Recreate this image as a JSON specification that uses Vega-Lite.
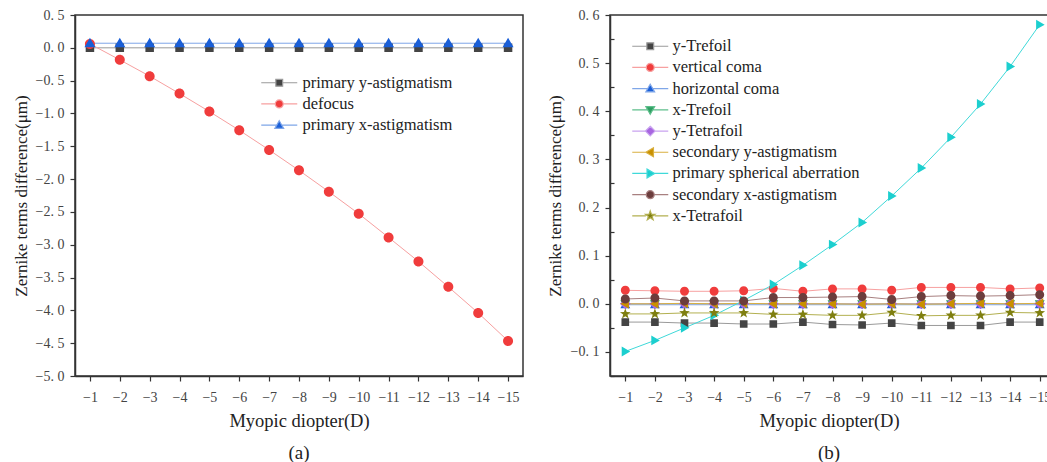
{
  "$schema": "https://vega.github.io/schema/vega-lite/v6.json",
  "padding": {"left": 11, "top": 7, "right": 0, "bottom": 0},
  "background": "white",
  "config": {
    "font": "Liberation Serif",
    "view": {"stroke": "#333333", "strokeWidth": 1.5},
    "axis": {"grid": false, "domainColor": "#333333", "domainWidth": 1.5, "tickColor": "#333333", "tickWidth": 1.2, "tickSize": 5, "labelFont": "Liberation Serif", "labelFontSize": 14, "labelColor": "#444444", "labelOverlap": false, "titleFont": "Liberation Serif", "titleFontSize": 17, "titleFontWeight": "normal", "titleColor": "#222222"},
    "legend": {"labelFont": "Liberation Serif", "labelFontSize": 16.5, "labelColor": "#222222", "labelLimit": 400, "symbolSize": 64, "symbolStrokeWidth": 1.2, "rowPadding": 4.2, "padding": 0}
  },
  "datasets": {
    "a": [
      {"D": -1, "series": "primary y-astigmatism", "value": 0.0}, {"D": -2, "series": "primary y-astigmatism", "value": 0.0}, {"D": -3, "series": "primary y-astigmatism", "value": 0.0}, {"D": -4, "series": "primary y-astigmatism", "value": 0.0}, {"D": -5, "series": "primary y-astigmatism", "value": 0.0}, {"D": -6, "series": "primary y-astigmatism", "value": 0.0}, {"D": -7, "series": "primary y-astigmatism", "value": 0.0}, {"D": -8, "series": "primary y-astigmatism", "value": 0.0}, {"D": -9, "series": "primary y-astigmatism", "value": 0.0}, {"D": -10, "series": "primary y-astigmatism", "value": 0.0}, {"D": -11, "series": "primary y-astigmatism", "value": 0.0}, {"D": -12, "series": "primary y-astigmatism", "value": 0.0}, {"D": -13, "series": "primary y-astigmatism", "value": 0.0}, {"D": -14, "series": "primary y-astigmatism", "value": 0.0}, {"D": -15, "series": "primary y-astigmatism", "value": 0.0},
      {"D": -1, "series": "defocus", "value": 0.06}, {"D": -2, "series": "defocus", "value": -0.183}, {"D": -3, "series": "defocus", "value": -0.432}, {"D": -4, "series": "defocus", "value": -0.697}, {"D": -5, "series": "defocus", "value": -0.971}, {"D": -6, "series": "defocus", "value": -1.256}, {"D": -7, "series": "defocus", "value": -1.556}, {"D": -8, "series": "defocus", "value": -1.867}, {"D": -9, "series": "defocus", "value": -2.192}, {"D": -10, "series": "defocus", "value": -2.528}, {"D": -11, "series": "defocus", "value": -2.889}, {"D": -12, "series": "defocus", "value": -3.255}, {"D": -13, "series": "defocus", "value": -3.642}, {"D": -14, "series": "defocus", "value": -4.039}, {"D": -15, "series": "defocus", "value": -4.466},
      {"D": -1, "series": "primary x-astigmatism", "value": 0.07}, {"D": -2, "series": "primary x-astigmatism", "value": 0.07}, {"D": -3, "series": "primary x-astigmatism", "value": 0.07}, {"D": -4, "series": "primary x-astigmatism", "value": 0.07}, {"D": -5, "series": "primary x-astigmatism", "value": 0.07}, {"D": -6, "series": "primary x-astigmatism", "value": 0.07}, {"D": -7, "series": "primary x-astigmatism", "value": 0.07}, {"D": -8, "series": "primary x-astigmatism", "value": 0.07}, {"D": -9, "series": "primary x-astigmatism", "value": 0.07}, {"D": -10, "series": "primary x-astigmatism", "value": 0.07}, {"D": -11, "series": "primary x-astigmatism", "value": 0.07}, {"D": -12, "series": "primary x-astigmatism", "value": 0.07}, {"D": -13, "series": "primary x-astigmatism", "value": 0.07}, {"D": -14, "series": "primary x-astigmatism", "value": 0.07}, {"D": -15, "series": "primary x-astigmatism", "value": 0.07}
    ],
    "b": [
      {"D": -1, "series": "y-Trefoil", "value": -0.038}, {"D": -2, "series": "y-Trefoil", "value": -0.038}, {"D": -3, "series": "y-Trefoil", "value": -0.040}, {"D": -4, "series": "y-Trefoil", "value": -0.040}, {"D": -5, "series": "y-Trefoil", "value": -0.042}, {"D": -6, "series": "y-Trefoil", "value": -0.042}, {"D": -7, "series": "y-Trefoil", "value": -0.038}, {"D": -8, "series": "y-Trefoil", "value": -0.043}, {"D": -9, "series": "y-Trefoil", "value": -0.044}, {"D": -10, "series": "y-Trefoil", "value": -0.040}, {"D": -11, "series": "y-Trefoil", "value": -0.045}, {"D": -12, "series": "y-Trefoil", "value": -0.045}, {"D": -13, "series": "y-Trefoil", "value": -0.045}, {"D": -14, "series": "y-Trefoil", "value": -0.038}, {"D": -15, "series": "y-Trefoil", "value": -0.038},
      {"D": -1, "series": "vertical coma", "value": 0.028}, {"D": -2, "series": "vertical coma", "value": 0.027}, {"D": -3, "series": "vertical coma", "value": 0.026}, {"D": -4, "series": "vertical coma", "value": 0.026}, {"D": -5, "series": "vertical coma", "value": 0.027}, {"D": -6, "series": "vertical coma", "value": 0.032}, {"D": -7, "series": "vertical coma", "value": 0.026}, {"D": -8, "series": "vertical coma", "value": 0.031}, {"D": -9, "series": "vertical coma", "value": 0.031}, {"D": -10, "series": "vertical coma", "value": 0.028}, {"D": -11, "series": "vertical coma", "value": 0.034}, {"D": -12, "series": "vertical coma", "value": 0.034}, {"D": -13, "series": "vertical coma", "value": 0.034}, {"D": -14, "series": "vertical coma", "value": 0.031}, {"D": -15, "series": "vertical coma", "value": 0.033},
      {"D": -1, "series": "horizontal coma", "value": -0.002}, {"D": -2, "series": "horizontal coma", "value": -0.002}, {"D": -3, "series": "horizontal coma", "value": -0.002}, {"D": -4, "series": "horizontal coma", "value": -0.002}, {"D": -5, "series": "horizontal coma", "value": -0.002}, {"D": -6, "series": "horizontal coma", "value": -0.002}, {"D": -7, "series": "horizontal coma", "value": -0.002}, {"D": -8, "series": "horizontal coma", "value": -0.002}, {"D": -9, "series": "horizontal coma", "value": -0.002}, {"D": -10, "series": "horizontal coma", "value": -0.002}, {"D": -11, "series": "horizontal coma", "value": -0.002}, {"D": -12, "series": "horizontal coma", "value": -0.002}, {"D": -13, "series": "horizontal coma", "value": -0.002}, {"D": -14, "series": "horizontal coma", "value": -0.002}, {"D": -15, "series": "horizontal coma", "value": -0.002},
      {"D": -1, "series": "x-Trefoil", "value": 0.0}, {"D": -2, "series": "x-Trefoil", "value": 0.0}, {"D": -3, "series": "x-Trefoil", "value": 0.0}, {"D": -4, "series": "x-Trefoil", "value": 0.0}, {"D": -5, "series": "x-Trefoil", "value": 0.0}, {"D": -6, "series": "x-Trefoil", "value": 0.0}, {"D": -7, "series": "x-Trefoil", "value": 0.0}, {"D": -8, "series": "x-Trefoil", "value": 0.0}, {"D": -9, "series": "x-Trefoil", "value": 0.0}, {"D": -10, "series": "x-Trefoil", "value": 0.0}, {"D": -11, "series": "x-Trefoil", "value": 0.0}, {"D": -12, "series": "x-Trefoil", "value": 0.0}, {"D": -13, "series": "x-Trefoil", "value": 0.0}, {"D": -14, "series": "x-Trefoil", "value": 0.0}, {"D": -15, "series": "x-Trefoil", "value": 0.0},
      {"D": -1, "series": "y-Tetrafoil", "value": 0.0}, {"D": -2, "series": "y-Tetrafoil", "value": 0.0}, {"D": -3, "series": "y-Tetrafoil", "value": 0.0}, {"D": -4, "series": "y-Tetrafoil", "value": 0.0}, {"D": -5, "series": "y-Tetrafoil", "value": 0.0}, {"D": -6, "series": "y-Tetrafoil", "value": 0.0}, {"D": -7, "series": "y-Tetrafoil", "value": 0.0}, {"D": -8, "series": "y-Tetrafoil", "value": 0.0}, {"D": -9, "series": "y-Tetrafoil", "value": 0.0}, {"D": -10, "series": "y-Tetrafoil", "value": 0.0}, {"D": -11, "series": "y-Tetrafoil", "value": 0.0}, {"D": -12, "series": "y-Tetrafoil", "value": 0.0}, {"D": -13, "series": "y-Tetrafoil", "value": 0.0}, {"D": -14, "series": "y-Tetrafoil", "value": 0.0}, {"D": -15, "series": "y-Tetrafoil", "value": 0.0},
      {"D": -1, "series": "secondary y-astigmatism", "value": 0.0}, {"D": -2, "series": "secondary y-astigmatism", "value": 0.0}, {"D": -3, "series": "secondary y-astigmatism", "value": 0.001}, {"D": -4, "series": "secondary y-astigmatism", "value": 0.0}, {"D": -5, "series": "secondary y-astigmatism", "value": 0.001}, {"D": -6, "series": "secondary y-astigmatism", "value": 0.0}, {"D": -7, "series": "secondary y-astigmatism", "value": 0.0}, {"D": -8, "series": "secondary y-astigmatism", "value": 0.0}, {"D": -9, "series": "secondary y-astigmatism", "value": -0.001}, {"D": -10, "series": "secondary y-astigmatism", "value": 0.0}, {"D": -11, "series": "secondary y-astigmatism", "value": -0.001}, {"D": -12, "series": "secondary y-astigmatism", "value": 0.0}, {"D": -13, "series": "secondary y-astigmatism", "value": 0.001}, {"D": -14, "series": "secondary y-astigmatism", "value": 0.0}, {"D": -15, "series": "secondary y-astigmatism", "value": 0.001},
      {"D": -1, "series": "primary spherical aberration", "value": -0.099}, {"D": -2, "series": "primary spherical aberration", "value": -0.076}, {"D": -3, "series": "primary spherical aberration", "value": -0.050}, {"D": -4, "series": "primary spherical aberration", "value": -0.024}, {"D": -5, "series": "primary spherical aberration", "value": 0.007}, {"D": -6, "series": "primary spherical aberration", "value": 0.040}, {"D": -7, "series": "primary spherical aberration", "value": 0.080}, {"D": -8, "series": "primary spherical aberration", "value": 0.123}, {"D": -9, "series": "primary spherical aberration", "value": 0.169}, {"D": -10, "series": "primary spherical aberration", "value": 0.224}, {"D": -11, "series": "primary spherical aberration", "value": 0.282}, {"D": -12, "series": "primary spherical aberration", "value": 0.346}, {"D": -13, "series": "primary spherical aberration", "value": 0.415}, {"D": -14, "series": "primary spherical aberration", "value": 0.493}, {"D": -15, "series": "primary spherical aberration", "value": 0.580},
      {"D": -1, "series": "secondary x-astigmatism", "value": 0.010}, {"D": -2, "series": "secondary x-astigmatism", "value": 0.012}, {"D": -3, "series": "secondary x-astigmatism", "value": 0.006}, {"D": -4, "series": "secondary x-astigmatism", "value": 0.006}, {"D": -5, "series": "secondary x-astigmatism", "value": 0.006}, {"D": -6, "series": "secondary x-astigmatism", "value": 0.013}, {"D": -7, "series": "secondary x-astigmatism", "value": 0.013}, {"D": -8, "series": "secondary x-astigmatism", "value": 0.014}, {"D": -9, "series": "secondary x-astigmatism", "value": 0.015}, {"D": -10, "series": "secondary x-astigmatism", "value": 0.009}, {"D": -11, "series": "secondary x-astigmatism", "value": 0.015}, {"D": -12, "series": "secondary x-astigmatism", "value": 0.017}, {"D": -13, "series": "secondary x-astigmatism", "value": 0.016}, {"D": -14, "series": "secondary x-astigmatism", "value": 0.017}, {"D": -15, "series": "secondary x-astigmatism", "value": 0.019},
      {"D": -1, "series": "x-Tetrafoil", "value": -0.021}, {"D": -2, "series": "x-Tetrafoil", "value": -0.021}, {"D": -3, "series": "x-Tetrafoil", "value": -0.019}, {"D": -4, "series": "x-Tetrafoil", "value": -0.019}, {"D": -5, "series": "x-Tetrafoil", "value": -0.019}, {"D": -6, "series": "x-Tetrafoil", "value": -0.022}, {"D": -7, "series": "x-Tetrafoil", "value": -0.022}, {"D": -8, "series": "x-Tetrafoil", "value": -0.024}, {"D": -9, "series": "x-Tetrafoil", "value": -0.024}, {"D": -10, "series": "x-Tetrafoil", "value": -0.018}, {"D": -11, "series": "x-Tetrafoil", "value": -0.025}, {"D": -12, "series": "x-Tetrafoil", "value": -0.024}, {"D": -13, "series": "x-Tetrafoil", "value": -0.024}, {"D": -14, "series": "x-Tetrafoil", "value": -0.018}, {"D": -15, "series": "x-Tetrafoil", "value": -0.019}
    ]
  },
  "spacing": 13,
  "resolve": {
    "scale": {"fill": "independent", "stroke": "independent", "shape": "independent"},
    "legend": {"fill": "independent", "stroke": "independent", "shape": "independent"}
  },
  "hconcat": [
    {
      "width": 448,
      "height": 361,
      "data": {"name": "a"},
      "title": {"text": "(a)", "orient": "bottom", "frame": "group", "fontSize": 19, "fontWeight": "normal", "font": "Liberation Serif", "color": "#222222", "offset": 14},
      "encoding": {
        "x": {"field": "D", "type": "quantitative", "scale": {"domain": [-0.5, -15.5], "nice": false, "zero": false},
              "axis": {"values": [-1, -2, -3, -4, -5, -6, -7, -8, -9, -10, -11, -12, -13, -14, -15], "format": "d", "labelOverlap": false, "title": "Myopic diopter(D)", "titleFontSize": 18.5, "labelPadding": 9, "titlePadding": 7}},
        "y": {"field": "value", "type": "quantitative", "scale": {"domain": [-5, 0.5], "nice": false, "zero": false},
              "axis": {"values": [-5, -4.5, -4, -3.5, -3, -2.5, -2, -1.5, -1, -0.5, 0, 0.5], "format": ".1f", "labelExpr": "replace(datum.label, '.', '. ')", "title": "Zernike terms difference(μm)", "labelPadding": 6, "titlePadding": 5}}
      },
      "layer": [
        {
          "mark": {"type": "line", "strokeWidth": 1},
          "encoding": {
            "stroke": {"field": "series", "type": "nominal",
              "scale": {"domain": ["primary y-astigmatism", "defocus", "primary x-astigmatism"], "range": ["#9a9a9a", "#f7a0a0", "#7fa6e8"]},
              "legend": {"title": null, "orient": "none", "legendX": 196, "legendY": 59.5, "labelOffset": 15}}
          }
        },
        {
          "mark": {"type": "point", "filled": true, "opacity": 1, "size": 100},
          "encoding": {
            "fill": {"field": "series", "type": "nominal",
              "scale": {"domain": ["primary y-astigmatism", "defocus", "primary x-astigmatism"], "range": ["#444444", "#f03c3c", "#1a5fd8"]},
              "legend": {"title": null, "orient": "none", "legendX": 196, "legendY": 59.5, "labelOffset": 15}},
            "shape": {"field": "series", "type": "nominal",
              "scale": {"domain": ["primary y-astigmatism", "defocus", "primary x-astigmatism"], "range": [
                "M-4.5,0H-0.85M0.85,0H4.5M-0.85,-0.85H0.85V0.85H-0.85Z",
                "M-4.5,0H-1M1,0H4.5M1,0A1,1,0,1,1,-1,0A1,1,0,1,1,1,0Z",
                "M-4.5,0H-0.6M0.6,0H4.5M0,-1.1L1.1,0.8H-1.1Z"]},
              "legend": {"title": null, "orient": "none", "legendX": 196, "legendY": 59.5, "labelOffset": 15}}
          }
        }
      ]
    },
    {
      "width": 438,
      "height": 361,
      "data": {"name": "b"},
      "title": {"text": "(b)", "orient": "bottom", "frame": "group", "fontSize": 19, "fontWeight": "normal", "font": "Liberation Serif", "color": "#222222", "offset": 14},
      "resolve": {"axis": {"y": "independent"}},
      "layer": [
        {
          "mark": {"type": "line", "strokeWidth": 1},
          "encoding": {
            "x": {"field": "D", "type": "quantitative", "scale": {"domain": [-0.483, -15.28], "nice": false, "zero": false},
                  "axis": {"values": [-1, -2, -3, -4, -5, -6, -7, -8, -9, -10, -11, -12, -13, -14, -15], "format": "d", "labelOverlap": false, "title": "Myopic diopter(D)", "titleFontSize": 18.5, "labelPadding": 9, "titlePadding": 7}},
            "y": {"field": "value", "type": "quantitative", "scale": {"domain": [-0.15, 0.6], "nice": false, "zero": false},
                  "axis": {"orient": "left", "values": [-0.1, 0, 0.1, 0.2, 0.3, 0.4, 0.5, 0.6], "format": ".1f", "labelExpr": "replace(datum.label, '.', '. ')", "title": "Zernike terms difference(μm)", "labelPadding": 6, "titlePadding": 6}},
            "stroke": {"field": "series", "type": "nominal",
              "scale": {"domain": ["y-Trefoil", "vertical coma", "horizontal coma", "x-Trefoil", "y-Tetrafoil", "secondary y-astigmatism", "primary spherical aberration", "secondary x-astigmatism", "x-Tetrafoil"],
                        "range": ["#9a9a9a", "#f7a0a0", "#7fa6e8", "#5fbf8c", "#c9a3f0", "#d9b040", "#3fd9d9", "#a88080", "#b3b050"]},
              "legend": {"title": null, "orient": "none", "legendX": 32, "legendY": 23, "labelOffset": 14}}
          }
        },
        {
          "mark": {"type": "point", "filled": true, "opacity": 1, "size": 81},
          "encoding": {
            "x": {"field": "D", "type": "quantitative", "axis": {"values": [-1, -2, -3, -4, -5, -6, -7, -8, -9, -10, -11, -12, -13, -14, -15], "format": "d", "labelOverlap": false, "title": "Myopic diopter(D)", "titleFontSize": 18.5, "labelPadding": 9, "titlePadding": 7}},
            "y": {"field": "value", "type": "quantitative", "axis": null},
            "fill": {"field": "series", "type": "nominal",
              "scale": {"domain": ["y-Trefoil", "vertical coma", "horizontal coma", "x-Trefoil", "y-Tetrafoil", "secondary y-astigmatism", "primary spherical aberration", "secondary x-astigmatism", "x-Tetrafoil"],
                        "range": ["#444444", "#f03c3c", "#1a5fd8", "#2e9e62", "#a865e0", "#c99000", "#1ccfcf", "#6b3d3d", "#7f7f10"]},
              "legend": {"title": null, "orient": "none", "legendX": 32, "legendY": 23, "labelOffset": 14}},
            "shape": {"field": "series", "type": "nominal",
              "scale": {"domain": ["y-Trefoil", "vertical coma", "horizontal coma", "x-Trefoil", "y-Tetrafoil", "secondary y-astigmatism", "primary spherical aberration", "secondary x-astigmatism", "x-Tetrafoil"],
                        "range": [
                "M-4.5,0H-0.85M0.85,0H4.5M-0.85,-0.85H0.85V0.85H-0.85Z",
                "M-4.5,0H-1M1,0H4.5M1,0A1,1,0,1,1,-1,0A1,1,0,1,1,1,0Z",
                "M-4.5,0H-0.6M0.6,0H4.5M0,-1.1L1.1,0.8H-1.1Z",
                "M-4.5,0H-0.6M0.6,0H4.5M0,1.1L1.1,-0.8H-1.1Z",
                "M-4.5,0H-1.2M1.2,0H4.5M0,-1.2L1.2,0L0,1.2L-1.2,0Z",
                "M-4.5,0H-1.1M0.8,0H4.5M-1.1,0L0.8,-1.1V1.1Z",
                "M-4.5,0H-0.8M1.1,0H4.5M1.1,0L-0.8,-1.1V1.1Z",
                "M-4.5,0H-1M1,0H4.5M1,0A1,1,0,1,1,-1,0A1,1,0,1,1,1,0Z",
                "M-4.5,0H-1.1M1.1,0H4.5M0,-1.25L0.294,-0.405L1.189,-0.386L0.476,0.155L0.735,1.011L0,0.5L-0.735,1.011L-0.476,0.155L-1.189,-0.386L-0.294,-0.405Z"]},
              "legend": {"title": null, "orient": "none", "legendX": 32, "legendY": 23, "labelOffset": 14}}
          }
        },
        {
          "mark": {"type": "point", "opacity": 0},
          "encoding": {
            "x": {"field": "D", "type": "quantitative", "axis": {"values": [-1, -2, -3, -4, -5, -6, -7, -8, -9, -10, -11, -12, -13, -14, -15], "format": "d", "labelOverlap": false, "title": "Myopic diopter(D)", "titleFontSize": 18.5, "labelPadding": 9, "titlePadding": 7}},
            "y": {"field": "value", "type": "quantitative",
                  "axis": {"orient": "left", "values": [-0.15, -0.05, 0.05, 0.15, 0.25, 0.35, 0.45, 0.55], "labels": false, "domain": false, "title": null, "tickSize": -4, "ticks": true}}
          }
        }
      ]
    }
  ]
}
